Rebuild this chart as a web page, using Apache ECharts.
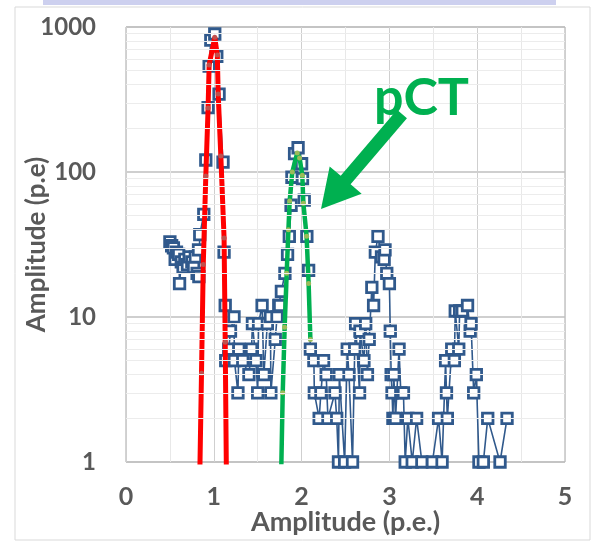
<!DOCTYPE html>
<html><head><meta charset="utf-8">
<script src="https://cdn.jsdelivr.net/npm/echarts@6/dist/echarts.min.js"></script>
<style>html,body{margin:0;padding:0;background:#fff}#c{width:596px;height:547px}</style>
</head><body><div id="c"></div>
<script>
// Measured data (blue squares)
const dataX = [0.50,0.52,0.54,0.56,0.575,0.60,0.61,0.63,0.65,0.67,0.70,0.72,0.75,0.77,0.79,0.81,0.826,0.83,0.84,0.886,0.909,0.935,0.947,0.966,1.011,1.034,1.06,1.105,1.117,1.13,1.136,1.17,1.19,1.23,1.235,1.275,1.285,1.33,1.40,1.43,1.44,1.48,1.50,1.51,1.55,1.57,1.61,1.645,1.65,1.70,1.72,1.74,1.75,1.77,1.81,1.84,1.86,1.88,1.89,1.92,1.96,2.00,2.01,2.03,2.06,2.08,2.10,2.14,2.145,2.20,2.22,2.25,2.28,2.30,2.38,2.40,2.42,2.43,2.49,2.52,2.54,2.58,2.605,2.615,2.66,2.665,2.71,2.73,2.75,2.77,2.80,2.82,2.84,2.87,2.91,2.94,2.95,2.97,3.00,3.01,3.02,3.03,3.04,3.05,3.07,3.11,3.13,3.16,3.18,3.21,3.26,3.31,3.37,3.49,3.56,3.60,3.64,3.65,3.66,3.71,3.74,3.75,3.79,3.80,3.83,3.89,3.92,3.93,3.96,3.99,4.02,4.07,4.12,4.26,4.34];
const dataY = [33,31,30,25,28,27,17,24,22,25,23,26,24,22,26,20,29,19,37,51,121,278,537,811,895,627,344,117,28,12,5,6,8,10,5,3,6,5,4,6,9,5,3,9,12,4,9,10,3,7,10,12,12,15,20,27,36,59,92,134,147,114,90,64,36,21,6,5,3,2,3,5,4,2,3,2,1,4,1,6,4,1,6,9,3,8,5,9,4,7,16,12,28,36,26,25,29,20,17,8,4,3,2,4,2,6,3,3,1,2,1,2,1,1,2,1,5,3,2,6,5,11,6,11,11,12,8,9,3,4,1,1,2,1,2];
// Gaussian fit, first peak (red)
const redX = [0.82,0.86,0.88,0.909,0.935,0.947,1.011,1.04,1.05,1.08,1.117,1.13,1.15];
const redY = [0.15,4.1,23,94,276,547,850,641,345,129,35,6.7,0.3];
// Gaussian fit, pCT peak (green)
const greenX = [1.765,1.785,1.807,1.83,1.85,1.864,1.894,1.95,1.977,2.008,2.02,2.057,2.08,2.10];
const greenY = [0.7,3.0,8.5,20,40,63,100,135,125,95,61,36,17,7];
// Axis ticks / labels
const xMin = 0, xMax = 5, xInterval = 1;
const yMin = 1, yMax = 1000;
const minorYLines = [2,3,4,5,6,7,8,9,20,30,40,50,60,70,80,90,200,300,400,500,600,700,800,900];
const xTitle = 'Amplitude (p.e.)';
const yTitle = 'Amplitude (p.e)';
const annotation = 'pCT';

const zip = (a,b) => a.map((v,i) => [v, b[i]]);
const chart = echarts.init(document.getElementById('c'), null, {renderer:'canvas'});
const font = 'Lato, "Open Sans", sans-serif';
const labelColor = '#595959';

// arrow geometry (decoration)
const tail=[402,114], tip=[321,209];
const dx=tip[0]-tail[0], dy=tip[1]-tail[1], L=Math.hypot(dx,dy);
const u=[dx/L,dy/L], n=[-u[1],u[0]];
const hl=38, hw=21, sw=6.5;
const base=[tip[0]-u[0]*hl, tip[1]-u[1]*hl];
const P=(p,k)=>[p[0]+n[0]*k,p[1]+n[1]*k];
const arrowPts=[P(tail,sw),P(base,sw),P(base,hw),tip,P(base,-hw),P(base,-sw),P(tail,-sw)];

chart.setOption({
  animation:false,
  backgroundColor:'#fff',
  grid:{left:126,right:31,top:27,bottom:85,show:true,borderColor:'#a6a6a6',borderWidth:1,
        containLabel:false,outerBoundsMode:'none'},
  xAxis:{
    type:'value',min:xMin,max:xMax,interval:xInterval,
    axisLine:{show:false},axisTick:{show:false},
    axisLabel:{color:labelColor,fontWeight:'bold',fontSize:25,fontFamily:font,margin:22},
    splitLine:{show:true,lineStyle:{color:'#cfcfcf',width:1}},
    minorTick:{show:false,splitNumber:2},
    minorSplitLine:{show:true,lineStyle:{color:'#e8e8e8',width:1}},
    name:xTitle,nameLocation:'middle',nameGap:47,nameMoveOverlap:false,
    nameTextStyle:{color:labelColor,fontWeight:'bold',fontSize:27,fontFamily:font}
  },
  yAxis:{
    type:'log',logBase:10,min:yMin,max:yMax,
    axisLine:{show:false},axisTick:{show:false},
    axisLabel:{color:labelColor,fontWeight:'bold',fontSize:24,fontFamily:font,margin:30,
      formatter:v=>String(Math.round(v))},
    splitLine:{show:true,lineStyle:{color:'#bfbfbf',width:1.5}},
    name:yTitle,nameLocation:'middle',nameGap:76,nameRotate:90,nameMoveOverlap:false,
    nameTextStyle:{color:labelColor,fontWeight:'bold',fontSize:26,fontFamily:font}
  },
  series:[
    {type:'line',data:[],silent:true,
     markLine:{silent:true,symbol:'none',label:{show:false},animation:false,
       lineStyle:{color:'#ececec',width:1,type:'solid'},
       data:minorYLines.map(v=>({yAxis:v}))},z:1},
    {type:'line',data:zip(dataX,dataY),symbol:'rect',symbolSize:10.5,
     lineStyle:{color:'#30598c',width:1.6},
     itemStyle:{color:'#ffffff',borderColor:'#30598c',borderWidth:2.8},z:3},
    {type:'line',data:zip(redX,redY),symbol:'circle',symbolSize:5,clip:true,
     lineStyle:{color:'#ff0000',width:5},
     itemStyle:{color:'#c0504d',borderWidth:0},z:4},
    {type:'line',data:zip(greenX,greenY),symbol:'circle',symbolSize:5,clip:true,
     lineStyle:{color:'#00b050',width:4.5},
     itemStyle:{color:'#9bbb59',borderWidth:0},z:4}
  ],
  graphic:[
    {type:'rect',shape:{x:15,y:7,width:575,height:533},style:{fill:'none',stroke:'#d9d9d9',lineWidth:1},z:-10,silent:true},
    {type:'rect',shape:{x:43,y:0,width:513,height:5},style:{fill:'#cdd0ef'},silent:true},
    {type:'text',x:374,y:72,style:{text:annotation,fill:'#00b050',font:'bold 52px '+font},z:10,silent:true},
    {type:'polygon',shape:{points:arrowPts},style:{fill:'#00b050'},z:10,silent:true}
  ]
});
</script></body></html>
